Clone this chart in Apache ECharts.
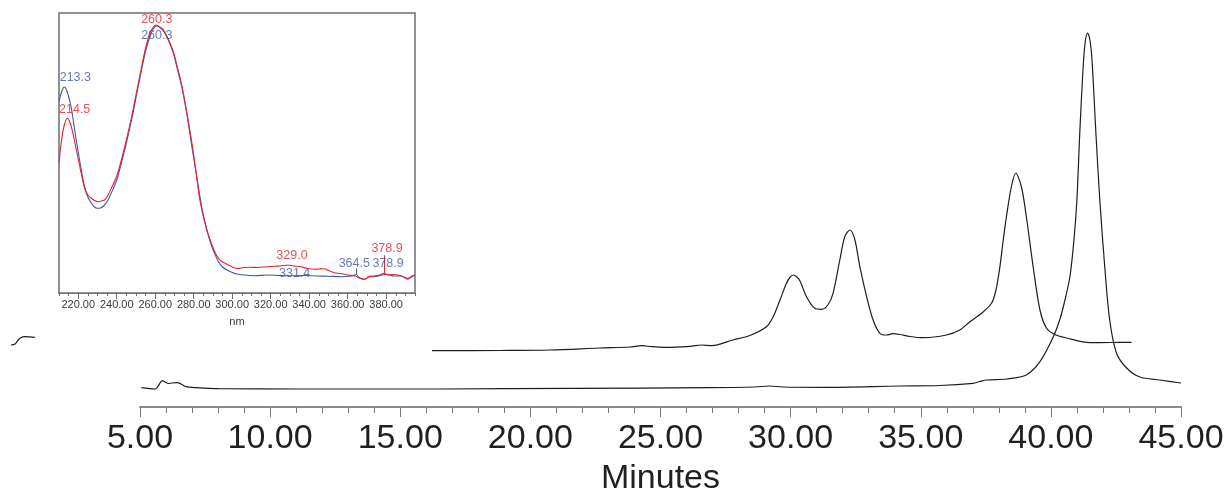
<!DOCTYPE html>
<html>
<head>
<meta charset="utf-8">
<script src="https://cdn.jsdelivr.net/npm/echarts@6/dist/echarts.min.js"></script>
<style>
html,body{margin:0;padding:0;background:#fff;}
#chart{width:1228px;height:492px;}
</style>
</head>
<body>
<div id="chart"></div>
<script>
// ---------- Main chromatogram (x: minutes, y: detector response, arbitrary units) ----------
const mainTicks = [5, 10, 15, 20, 25, 30, 35, 40, 45];

// trace starting at 5 min (large peak ~41.4 min)
const traceLower = [
  [5.05,19.3],[5.58,18],[5.68,20.3],[5.86,26.3],[5.96,25],[6.08,23.5],[6.23,24],[6.42,24.3],
  [6.58,23],[6.77,20.3],[7.18,19.3],[8.04,18.3],[11.15,18],[16.56,18],[21.67,18.7],[26.82,19.3],
  [28.63,20],[29.2,21],[29.7,20],[31.24,19.7],[34.2,21],[35.73,21.5],[37.01,23.7],[37.27,25.5],
  [37.53,27],[38.3,28],[39.06,32],[39.58,45.3],[40.09,70],[40.35,88],[40.55,108],[40.73,130],
  [40.88,165],[41.0,207],[41.11,274],[41.24,340],[41.32,365],[41.41,374],[41.5,367],[41.58,347],
  [41.73,274],[41.88,207],[42.07,140],[42.26,87],[42.52,54],[42.91,39],[43.42,30],[44.19,27],[45.0,24]
];

// offset trace starting ~16 min (peaks ~30.1, 32.3, 38.6 min)
const traceUpper = [
  [16.22,56.3],[18.83,56.5],[20.75,57],[22.67,59],[23.82,60],[24.29,61.3],[24.67,60.3],[25.17,59.7],
  [26.13,60.7],[26.59,62],[26.97,61.3],[27.78,67],[28.43,71.5],[29.07,80.3],[29.33,90.3],[29.59,107],
  [29.84,123.7],[29.97,129.5],[30.1,132],[30.24,130],[30.36,126],[30.61,110.3],[30.93,98.7],[31.19,97.7],
  [31.43,102],[31.63,113.7],[31.89,147],[32.08,170.3],[32.28,177],[32.47,167],[32.66,140.3],[32.92,110.3],
  [33.17,87],[33.43,73.7],[33.69,72],[33.93,73.3],[34.2,72.5],[34.58,70.5],[35.09,69.3],[35.99,72],
  [36.5,77],[36.89,85.3],[37.35,94],[37.72,103.7],[37.89,117],[38.04,140],[38.17,167],[38.29,190],
  [38.48,220],[38.65,234],[38.87,220],[39.06,190],[39.32,140],[39.58,97],[39.83,79],[40.15,72.5],
  [40.6,69],[41.5,64.3],[42.27,64.5],[43.1,64.7]
];

// small piece of trace visible at 0-1 min (left of the axis)
const traceFragment = [[0.04,62],[0.2,63],[0.32,67],[0.42,69.3],[0.58,70.3],[0.96,69.7]];

// ---------- Inset UV spectra (x: nm, y: absorbance, arbitrary units) ----------
const nmTicks = [220, 240, 260, 280, 300, 320, 340, 360, 380];

const spectrumBlue = [
  [210,192],[211.5,202],[212.8,206],[214.3,201],[216.3,186],[218,165],[219.8,143],[221.5,124],
  [223.3,106],[225,96],[226.8,90],[228.5,86],[229.7,84.7],[231.5,85],[233.7,88],[235.5,93],
  [237.2,100],[240,113],[242.4,130],[245,150],[247.7,173],[250.3,198],[252.9,223],[255,242],
  [257.2,256],[259,264],[260.5,267],[262.5,265.5],[264.6,261],[267,252],[269.4,240],[271.5,224],
  [273.8,206],[276.5,178],[279,147],[281.6,116],[284.2,86],[287,62],[289.5,46],[291.2,38],
  [292.9,31],[295,26],[297.3,23],[300,20.5],[302.5,19],[306,18],[312,17.3],[318,18],[325,17.5],
  [332,17.3],[338,17.5],[344,17],[350,16.8],[356.5,16.3],[362,17],[364.5,18.5],[366,15.5],
  [368.7,13.7],[371,16],[373.9,16.3],[377,17.5],[380,18.7],[384,17],[387.8,17],[391.3,14.7],[394.8,18]
];

const spectrumRed = [
  [210,130],[211,148],[212.5,166],[214.3,174.7],[215.8,170],[217.2,160],[218.5,148],[219.8,136],
  [221.5,120],[223.3,105],[225,98],[226.8,94.7],[228.5,92.5],[230.2,91.3],[232,92],[233.7,93],
  [235.5,98],[237.2,104.7],[240,117],[242.4,133],[245,153],[247.7,176],[250.3,201],[252.9,226],
  [255,245],[257.2,259.7],[259,266],[260.3,268],[262.5,266],[264.6,262.3],[267,253],[269.4,241.3],
  [271.5,226],[273.8,208],[276.5,180],[279,151],[281.2,121],[283.4,91],[286.5,65],[289.5,48],
  [291.2,40],[292.9,34.7],[294.6,31.5],[296.4,29.7],[298.5,27.5],[300.8,25.3],[303,24.5],[306,25.5],
  [309.5,25.7],[313,25.5],[318.2,26.3],[322,26.8],[325.1,27],[329,28],[332,27],[335.6,26.3],
  [339,24.5],[342.5,23.7],[345,24],[347.8,24.3],[350,22.5],[353,20.3],[356.5,19.5],[360,18],
  [364,17],[366,15],[368.7,13.7],[371,16.5],[373.9,17],[376.5,18],[378.9,19.7],[381,18],
  [384,18.5],[386.1,18],[389,16],[391.3,13.7],[393,16.5],[394.8,18]
];

// peak apex annotations [nm, absorbance]
const peaksBlue = [[213.3,206],[260.3,267],[331.4,17.3],[364.5,18.5],[378.9,18.7]];
const peaksRed  = [[214.5,174.7],[260.3,268],[329.0,28],[378.9,19.7]];

// ---------- styling ----------
const FONT = "'Liberation Sans', Arial, sans-serif";
const RED = '#ee2027';
const BLUE = '#3f57a8';
const blueLabelOffsets = [[10,-9],[1,10],[2,-2],[-2,-11],[4,-11]];
const redLabelOffsets  = [[7,-9],[1,-5],[4,-9],[3,-25]];
// leader-line heights (in absorbance units) drawn above selected apexes
const blueLeader = {3: 6};
const redLeader  = {3: 18};

function labelItems(peaks, offsets){
  return peaks.map((p,i)=>({value:p, label:{offset:offsets[i]}}));
}
function leaderLines(peaks, leaders){
  return Object.keys(leaders).map(k=>{
    const p = peaks[k];
    return [{coord:[p[0], p[1]]}, {coord:[p[0], p[1] + leaders[k]]}];
  });
}

const chart = echarts.init(document.getElementById('chart'), null, {renderer:'canvas'});
chart.setOption({
  animation:false,
  backgroundColor:'#ffffff',
  grid:[
    {left:140, right:47, top:7, bottom:85, outerBoundsMode:'none', containLabel:false},
    {left:9.9, right:47, top:7, bottom:85, outerBoundsMode:'none', containLabel:false},
    {left:59, top:13, width:356, height:280, show:true, borderColor:'#6e6e6e', borderWidth:1.5,
      backgroundColor:'#fff', z:5, outerBoundsMode:'none', containLabel:false}
  ],
  xAxis:[
    {
      gridIndex:0, type:'value', position:'bottom', min:5, max:45, interval:5,
      axisLine:{show:true, lineStyle:{color:'#8a8a8a', width:2}},
      axisTick:{show:true, length:10, lineStyle:{color:'#7a7a7a', width:1}},
      minorTick:{show:true, splitNumber:5, length:6, lineStyle:{color:'#7a7a7a', width:1}},
      splitLine:{show:false}, minorSplitLine:{show:false},
      axisLabel:{fontSize:34, color:'#231f20', fontFamily:FONT, margin:15,
        formatter:v=>v.toFixed(2), customValues: mainTicks},
      name:'Minutes', nameLocation:'middle', nameGap:55,
      nameTextStyle:{fontSize:34, color:'#231f20', fontFamily:FONT}
    },
    {gridIndex:1, type:'value', position:'bottom', min:0, max:45, show:false},
    {
      gridIndex:2, type:'value', position:'bottom', min:210, max:395, interval:5,
      axisLine:{show:true, lineStyle:{color:'#6e6e6e', width:1.5}},
      axisTick:{show:true, length:3, lineStyle:{color:'#6e6e6e', width:1}},
      axisLabel:{show:false}, splitLine:{show:false}
    },
    {
      gridIndex:2, type:'value', position:'bottom', offset:0, min:210, max:395,
      axisLine:{show:false},
      axisTick:{show:true, length:6, customValues:nmTicks, lineStyle:{color:'#6e6e6e', width:1}},
      axisLabel:{show:true, customValues:nmTicks, fontSize:11, color:'#3a3a3a', fontFamily:FONT, margin:6,
        formatter:v=>v.toFixed(2)},
      splitLine:{show:false},
      name:'nm', nameLocation:'middle', nameGap:23,
      nameTextStyle:{fontSize:11, color:'#3a3a3a', fontFamily:FONT}
    }
  ],
  yAxis:[
    {gridIndex:0, type:'value', min:0, max:400, show:false, splitLine:{show:false}},
    {gridIndex:1, type:'value', min:0, max:400, show:false, splitLine:{show:false}},
    {gridIndex:2, type:'value', min:0, max:280, show:false, splitLine:{show:false}}
  ],
  series:[
    {type:'line', xAxisIndex:0, yAxisIndex:0, data:traceUpper, showSymbol:false, smooth:0.3,
      lineStyle:{color:'#1e1e1e', width:1.2}},
    {type:'line', xAxisIndex:0, yAxisIndex:0, data:traceLower, showSymbol:false, smooth:0.3,
      lineStyle:{color:'#1e1e1e', width:1.2}},
    {type:'line', xAxisIndex:1, yAxisIndex:1, data:traceFragment, showSymbol:false, smooth:0.3,
      lineStyle:{color:'#1e1e1e', width:1.2}},
    {type:'line', xAxisIndex:2, yAxisIndex:2, data:spectrumBlue, showSymbol:false, smooth:0.3, z:6,
      lineStyle:{color:BLUE, width:1.1},
      markLine:{silent:true, symbol:'none', label:{show:false}, lineStyle:{color:BLUE, width:1, type:'solid'},
        data:leaderLines(peaksBlue, blueLeader)}},
    {type:'line', xAxisIndex:2, yAxisIndex:2, data:spectrumRed, showSymbol:false, smooth:0.3, z:6,
      lineStyle:{color:RED, width:1.1},
      markLine:{silent:true, symbol:'none', label:{show:false}, lineStyle:{color:RED, width:1, type:'solid'},
        data:leaderLines(peaksRed, redLeader)}},
    {type:'scatter', xAxisIndex:2, yAxisIndex:2, data:labelItems(peaksBlue, blueLabelOffsets), z:7,
      symbolSize:1, itemStyle:{color:'rgba(0,0,0,0)'},
      label:{show:true, position:'inside', color:BLUE, fontSize:12.5, fontFamily:FONT,
        formatter:p=>p.value[0].toFixed(1)}},
    {type:'scatter', xAxisIndex:2, yAxisIndex:2, data:labelItems(peaksRed, redLabelOffsets), z:7,
      symbolSize:1, itemStyle:{color:'rgba(0,0,0,0)'},
      label:{show:true, position:'inside', color:RED, fontSize:12.5, fontFamily:FONT,
        formatter:p=>p.value[0].toFixed(1)}}
  ]
});
</script>
</body>
</html>
